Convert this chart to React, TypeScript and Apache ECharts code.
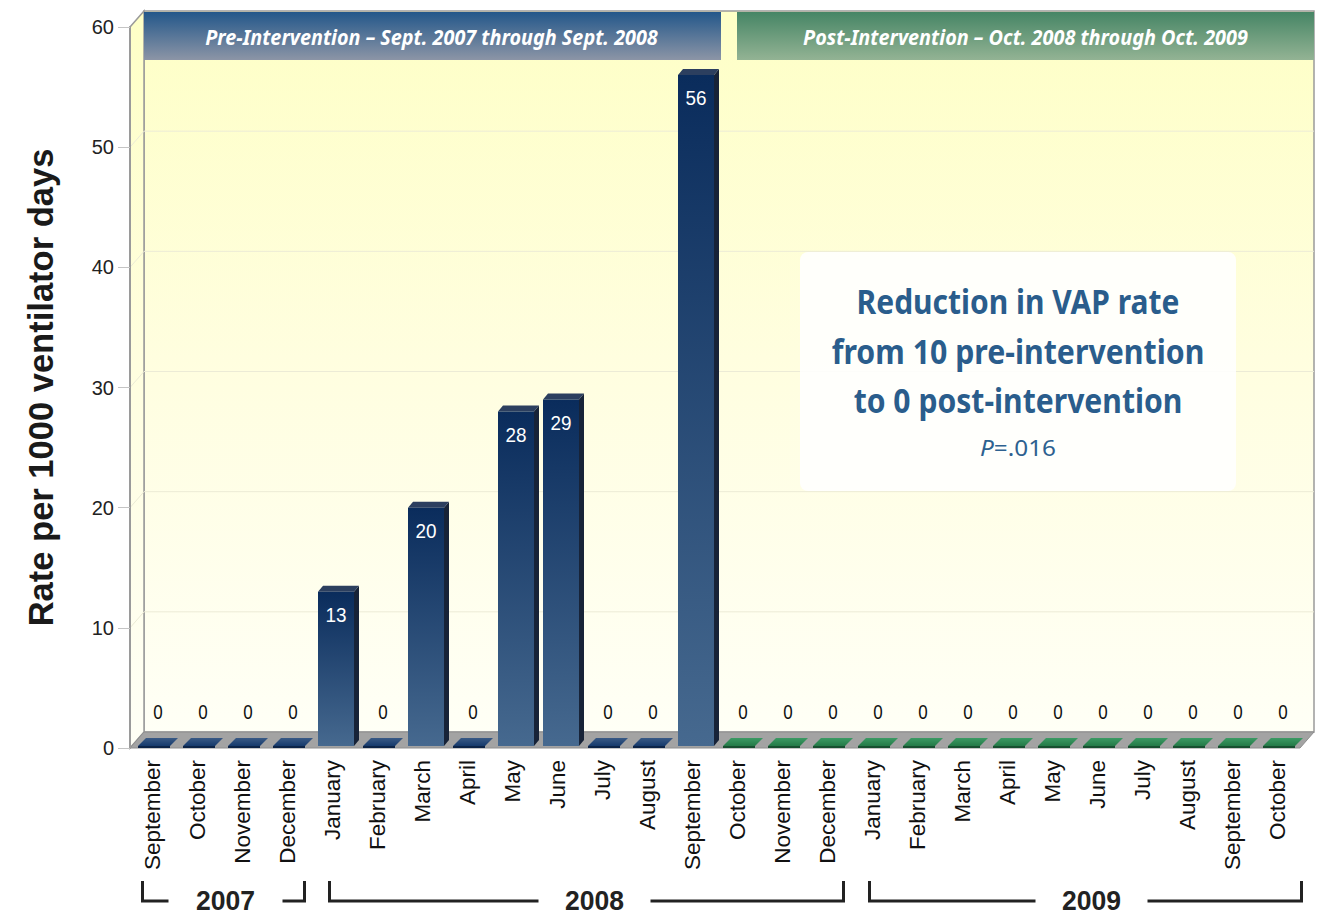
import React, { useEffect, useRef } from "react";
import * as echarts from "echarts";

const months = [
  "September", "October", "November", "December",
  "January", "February", "March", "April", "May", "June", "July", "August", "September", "October", "November", "December",
  "January", "February", "March", "April", "May", "June", "July", "August", "September", "October",
];
const rates = [0, 0, 0, 0, 13, 0, 20, 0, 28, 29, 0, 0, 56, 0, 0, 0, 0, 0, 0, 0, 0, 0, 0, 0, 0, 0];
const phases = [
  "pre", "pre", "pre", "pre", "pre", "pre", "pre", "pre", "pre", "pre", "pre", "pre", "pre",
  "post", "post", "post", "post", "post", "post", "post", "post", "post", "post", "post", "post", "post",
];
const years = [
  { label: "2007", from: 0, to: 3 },
  { label: "2008", from: 4, to: 15 },
  { label: "2009", from: 16, to: 25 },
];
const yMin = 0;
const yMax = 60;
const yStep = 10;
const preTitle = "Pre-Intervention – Sept. 2007 through Sept. 2008";
const postTitle = "Post-Intervention – Oct. 2008 through Oct. 2009";
const noteLines = ["Reduction in VAP rate", "from 10 pre-intervention", "to 0 post-intervention"];
const noteP = ".016";
const yTitle = "Rate per 1000 ventilator days";

const COND = "'Noto Sans', 'Open Sans', sans-serif";
const SANS = "'Liberation Sans', Arial, sans-serif";

const DX = 14;
const DY = -16;

let measureCtx: CanvasRenderingContext2D | null = null;
function textWidth(text: string, font: string): number {
  if (!measureCtx) measureCtx = document.createElement("canvas").getContext("2d");
  if (!measureCtx) return text.length * 10;
  measureCtx.font = font;
  return measureCtx.measureText(text).width;
}
function fitScale(text: string, font: string, target: number): number {
  const w = textWidth(text, font);
  return w > 0 ? target / w : 1;
}

export default function App() {
  const ref = useRef<HTMLDivElement>(null);
  useEffect(() => {
    if (!ref.current) return;
    const chart = echarts.init(ref.current, undefined, { renderer: "svg" });

    const zeroFont = `20px ${SANS}`;
    const zeroScale = 0.85;
    const valFont = `21px ${SANS}`;
    const valScale = 0.9;

    const renderItem = (params: any, api: any) => {
      const idx = api.value(0);
      const v = api.value(1);
      const base = api.coord([idx, 0]);
      const top = api.coord([idx, v]);
      const pre = phases[idx] === "pre";
      const c = base[0] + 3.5;
      const children: any[] = [];
      if (v === 0) {
        const b = base[1] - 2;
        children.push({
          type: "polygon",
          shape: { points: [[c - 18, b + 2], [c + 14, b + 2], [c + 14, b], [c - 18, b]] },
          style: { fill: pre ? "#0c2448" : "#175030" },
        });
        children.push({
          type: "polygon",
          shape: { points: [[c - 18, b], [c + 14, b], [c + 22, b - 8], [c - 10, b - 8]] },
          style: {
            fill: new echarts.graphic.LinearGradient(0, 0, 0, 1, [
              { offset: 0, color: pre ? "#3a5a85" : "#3c9a64" },
              { offset: 1, color: pre ? "#163a6c" : "#237a47" },
            ]),
          },
        });
        children.push({
          type: "text",
          x: c + 2, y: base[1] - 36, scaleX: zeroScale,
          style: {
            text: String(v), x: 0, y: 0, align: "center", verticalAlign: "middle",
            fill: "#111", font: zeroFont,
          },
        });
      } else {
        const w = 36;
        const l = c - w / 2;
        const r = c + w / 2;
        const t = top[1];
        const b = base[1] - 2;
        children.push({
          type: "polygon",
          shape: { points: [[r, t], [r + 5, t - 6], [r + 5, b - 6], [r, b]] },
          style: { fill: "#172338" },
        });
        children.push({
          type: "polygon",
          shape: { points: [[l, t], [l + 5, t - 6], [r + 5, t - 6], [r, t]] },
          style: { fill: "#2c3f5f" },
        });
        children.push({
          type: "rect",
          shape: { x: l, y: t, width: w, height: b - t },
          style: {
            fill: new echarts.graphic.LinearGradient(0, 0, 0, 1, [
              { offset: 0, color: "#0a2c5c" },
              { offset: 1, color: "#46698f" },
            ]),
          },
        });
        children.push({
          type: "text",
          x: c, y: t + 23, scaleX: valScale,
          style: {
            text: String(v), x: 0, y: 0, align: "center", verticalAlign: "middle",
            fill: "#fff", font: valFont,
          },
        });
      }
      return { type: "group", children };
    };

    const xFontSize = 20 * 110 / textWidth("September", `20px ${SANS}`);
    const yTitleSize = 28 * 478 / textWidth(yTitle, `bold 28px ${SANS}`);

    const option: any = {
      animation: false,
      backgroundColor: "#ffffff",
      grid: { left: 130, right: 26, top: 27, bottom: 169, containLabel: false },
      xAxis: {
        type: "category",
        data: months,
        axisLine: { show: false },
        axisTick: { show: false },
        axisLabel: {
          rotate: 90, interval: 0, margin: 12, color: "#111",
          fontFamily: SANS, fontSize: xFontSize,
        },
      },
      yAxis: {
        type: "value",
        min: yMin,
        max: yMax,
        interval: yStep,
        name: yTitle,
        nameLocation: "middle",
        nameRotate: 90,
        nameGap: 72,
        nameTextStyle: { fontFamily: SANS, fontSize: yTitleSize, fontWeight: "bold", color: "#1a1a1a" },
        axisLine: { show: true, lineStyle: { color: "#9a9a9a", width: 2 } },
        axisTick: { show: true, length: 12, lineStyle: { color: "#c4c4c4", width: 1 } },
        axisLabel: { margin: 16, color: "#222", fontFamily: SANS, fontSize: 20 },
        splitLine: { show: false },
      },
      series: [
        {
          type: "custom",
          renderItem,
          encode: { x: 0, y: 1 },
          data: rates.map((v, i) => [i, v]),
          z: 5,
        },
      ],
    };
    chart.setOption(option);

    const px = (i: number, v: number) => chart.convertToPixel({ gridIndex: 0 }, [i, v]) as number[];
    const n = months.length;
    const p0 = px(0, yMin);
    const pTop = px(0, yMax);
    const step = px(1, 0)[0] - p0[0];
    const xL = p0[0] - step / 2;
    const xR = px(n - 1, 0)[0] + step / 2;
    const yB = p0[1];
    const yT = pTop[1];

    const wallFill = new echarts.graphic.LinearGradient(0, 0, 0, 1, [
      { offset: 0, color: "#feffc6" },
      { offset: 0.5, color: "#fffee0" },
      { offset: 1, color: "#fffff6" },
    ]);
    const g: any[] = [];
    g.push({
      type: "rect", z: -10,
      shape: { x: xL + DX, y: yT + DY, width: xR - xL, height: yB - yT },
      style: { fill: wallFill, stroke: "#9a9a9a", lineWidth: 1.5 },
    });
    g.push({
      type: "polygon", z: -9,
      shape: { points: [[xL, yT], [xL + DX, yT + DY], [xL + DX, yB + DY], [xL, yB]] },
      style: { fill: wallFill, stroke: "#9a9a9a", lineWidth: 1.5 },
    });
    for (let v = yMin + yStep; v < yMax; v += yStep) {
      const y = px(0, v)[1];
      g.push({
        type: "line", z: -8,
        shape: { x1: xL + DX, y1: y + DY, x2: xR + DX, y2: y + DY },
        style: { stroke: "#ecebd6", lineWidth: 1 },
      });
      g.push({
        type: "line", z: -8,
        shape: { x1: xL, y1: y, x2: xL + DX, y2: y + DY },
        style: { stroke: "#ecebd6", lineWidth: 1 },
      });
    }
    g.push({
      type: "polygon", z: -7,
      shape: { points: [[xL, yB], [xL + DX, yB + DY], [xR + DX, yB + DY], [xR, yB]] },
      style: { fill: "#a3a3a3", stroke: "#8e8e8e", lineWidth: 1 },
    });
    // banners
    const split = (px(12, 0)[0] + px(13, 0)[0]) / 2 + DX;
    const bTop = yT + DY + 1;
    const bH = 48;
    const preL = xL + DX;
    const preR = split - 8;
    const postL = split + 8;
    const postR = xR + DX;
    g.push({
      type: "rect", z: -6,
      shape: { x: preL, y: bTop, width: preR - preL, height: bH },
      style: {
        fill: new echarts.graphic.LinearGradient(0, 0, 0, 1, [
          { offset: 0, color: "#23578a" },
          { offset: 1, color: "#8c95a6" },
        ]),
      },
    });
    g.push({
      type: "rect", z: -6,
      shape: { x: postL, y: bTop, width: postR - postL, height: bH },
      style: {
        fill: new echarts.graphic.LinearGradient(0, 0, 0, 1, [
          { offset: 0, color: "#468565" },
          { offset: 1, color: "#93b394" },
        ]),
      },
    });
    const bannerFont = `italic bold 22px ${COND}`;
    g.push({
      type: "text", z: 10,
      x: 431.5, y: bTop + bH / 2 + 1, scaleX: fitScale(preTitle, bannerFont, 453),
      style: {
        text: preTitle, x: 0, y: 0, align: "center", verticalAlign: "middle", fill: "#ffffff",
        font: bannerFont,
      },
    });
    g.push({
      type: "text", z: 10,
      x: 1025.5, y: bTop + bH / 2 + 1, scaleX: fitScale(postTitle, bannerFont, 445),
      style: {
        text: postTitle, x: 0, y: 0, align: "center", verticalAlign: "middle", fill: "#ffffff",
        font: bannerFont,
      },
    });
    // annotation box
    const boxX = 800, boxY = 252, boxW = 436, boxH = 239;
    g.push({
      type: "rect", z: 3,
      shape: { x: boxX, y: boxY, width: boxW, height: boxH, r: 8 },
      style: { fill: "rgba(255,255,255,0.88)" },
    });
    const noteFont = `bold 34px ${COND}`;
    const noteWidths = [323, 373, 329];
    noteLines.forEach((t, k) => {
      g.push({
        type: "text", z: 4,
        x: 1018, y: boxY + 49 + k * 49.5, scaleX: fitScale(t, noteFont, noteWidths[k]),
        style: {
          text: t, x: 0, y: 0, align: "center", verticalAlign: "middle", fill: "#2a5d8c",
          font: noteFont,
        },
      });
    });
    const pFontI = `italic 22px ${COND}`;
    const pFontN = `22px ${COND}`;
    const pW = textWidth("P", pFontI) + textWidth("=" + noteP, pFontN);
    g.push({
      type: "text", z: 4,
      x: 1018, y: boxY + 195, scaleX: 76 / pW,
      style: {
        text: `{i|P}{n|=${noteP}}`, x: 0, y: 0, align: "center", verticalAlign: "middle",
        rich: {
          i: { fill: "#2e6190", font: pFontI },
          n: { fill: "#2e6190", font: pFontN },
        },
      },
    });
    // year brackets
    const yLine = 901;
    const yTickTop = 881;
    const leftOff = [-10, -3, -3];
    const rightOff = [17, 16, 24];
    const textShift = [2, 8, 6];
    const yearFont = `bold 27px ${SANS}`;
    years.forEach((yr, k) => {
      const a = px(yr.from, 0)[0] + leftOff[k];
      const b = px(yr.to, 0)[0] + rightOff[k];
      const mid = (a + b) / 2 + textShift[k];
      const gap = k === 0 ? 57 : 56;
      g.push({
        type: "polyline", z: 5,
        shape: { points: [[a, yTickTop], [a, yLine], [mid - gap, yLine]] },
        style: { stroke: "#222", lineWidth: 3, fill: null },
      });
      g.push({
        type: "polyline", z: 5,
        shape: { points: [[mid + gap, yLine], [b, yLine], [b, yTickTop]] },
        style: { stroke: "#222", lineWidth: 3, fill: null },
      });
      g.push({
        type: "text", z: 5,
        x: mid, y: yLine, scaleX: fitScale(yr.label, yearFont, 59),
        style: {
          text: yr.label, x: 0, y: 0, align: "center", verticalAlign: "middle", fill: "#222",
          font: yearFont, lineHeight: 26,
        },
      });
    });
    chart.setOption({ graphic: g });

    return () => chart.dispose();
  }, []);
  return (
    <div
      ref={ref}
      style={{ position: "fixed", left: 0, top: 0, width: 1326, height: 917 }}
    />
  );
}
